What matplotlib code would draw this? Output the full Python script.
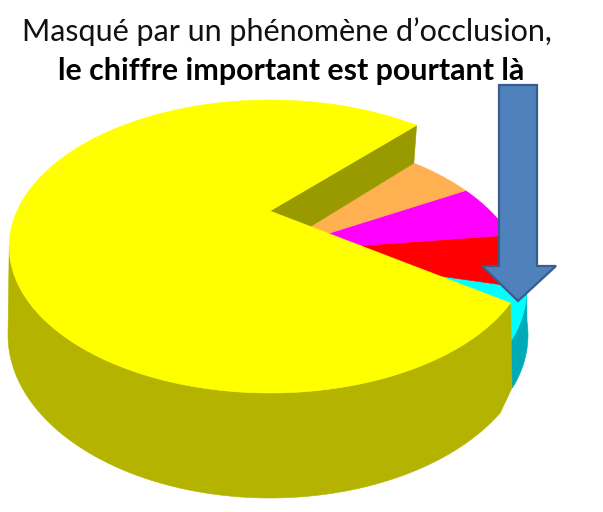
import numpy as np
import matplotlib
matplotlib.use('Agg')
import matplotlib.pyplot as plt
from matplotlib.patches import Polygon

# parts du camembert, dans le sens de rotation a partir du bord haut du jaune
labels = ['jaune', 'cyan', 'rouge', 'magenta', 'orange']
shares = [77.2, 5.9, 5.8, 6.0, 5.1]
colors = ['#FFFF00', '#00FFFF', '#FF0000', '#FF00FF', '#FFB050']

line1 = 'Masqué par un phénomène d’occlusion,'
line2 = 'le chiffre important est pourtant là'

start_angle = 47.0
persp = -0.2423

# vue en perspective d'un disque
def project(theta, cx, cy, rx, ry):
    t = np.radians(theta)
    u, v = np.cos(t), -np.sin(t)
    w = 1 + persp * v
    return np.column_stack([cx + rx * u / w, cy + ry * v / w])

def top_yellow(theta):
    return project(theta, 270, 211, 253, 137.9)

def top_others(theta):
    return project(theta, 269, 252, 250, 143)

def arc(a, b, n=120):
    return np.linspace(a, b, n)

def ellipse(t0, t1, cx, cy, rx, ry, n=120):
    t = np.radians(np.linspace(t0, t1, n))
    return np.column_stack([cx + rx * np.cos(t), cy + ry * np.sin(t)])

def fill(ax, pts, color, z):
    ax.add_patch(Polygon(pts, closed=True, facecolor=color, edgecolor=color, lw=0.4, zorder=z))

fig = plt.figure(figsize=(6.03, 5.12), dpi=100)
ax = fig.add_axes([0, 0, 1, 1])
ax.set_xlim(0, 603)
ax.set_ylim(512, 0)
ax.axis('off')

edges = start_angle + np.cumsum([0] + [s * 3.6 for s in shares])

# flanc du secteur cyan
side = np.vstack([top_others(arc(edges[1], edges[2])), ellipse(-5, 20, 270, 335, 258, 155)])
fill(ax, side, '#00ABB8', 1)

# petits secteurs, plus bas que le jaune
for i in range(1, len(shares)):
    rim = top_others(arc(edges[i], edges[i + 1]))
    fill(ax, np.vstack([[269, 252], rim]), colors[i], 2)

# flanc du secteur jaune
top_rim = top_yellow(arc(edges[1], 194))
bottom_rim = ellipse(180, 28.5, 270, 335, 262, 163)
fill(ax, np.vstack([top_rim, bottom_rim, [[512, 388]]]), '#B3B300', 3)

# paroi visible entre le jaune et l'orange
a = top_yellow(np.array([edges[0]]))[0]
b = top_others(np.array([edges[0]]))[0]
fill(ax, [(270, 211), a, b, (269, 252)], '#999900', 3)

# dessus du secteur jaune
fill(ax, np.vstack([[270, 211], top_yellow(arc(edges[0], edges[1], 300))]), colors[0], 4)

# fleche
arrow = [(499, 85), (537, 85), (537, 266), (556, 266), (518, 301), (482, 266), (499, 266)]
ax.add_patch(Polygon(arrow, closed=True, facecolor='#4F81BD', edgecolor='#385D8A', lw=1.6, zorder=5))

ax.text(22, 41, line1, family='Lato', fontsize=21.95, color='#111111', va='baseline', ha='left')
ax.text(58, 80, line2, family='Lato', fontsize=21.9, fontweight='bold', color='#000000', va='baseline', ha='left')

fig.savefig('out.png', dpi=100, facecolor='white')
